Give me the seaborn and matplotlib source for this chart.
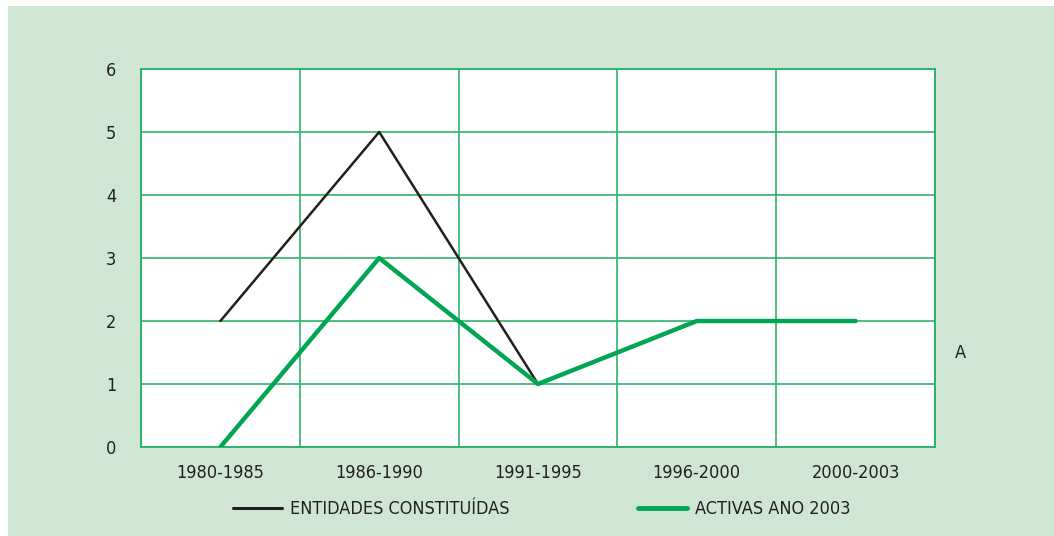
import pandas as pd
import numpy as np
import matplotlib
matplotlib.use('Agg')
import matplotlib.pyplot as plt
from matplotlib.patches import Rectangle
from matplotlib.lines import Line2D
import seaborn as sns

periods = ['1980-1985', '1986-1990', '1991-1995', '1996-2000', '2000-2003']
constituidas = [2, 5, 1, 2, 2]
activas = [0, 3, 1, 2, 2]
series_names = ['ENTIDADES CONSTITUÍDAS', 'ACTIVAS ANO 2003']

df = pd.DataFrame({
    'periodo': periods * 2,
    'pos': list(range(len(periods))) * 2,
    'valor': constituidas + activas,
    'serie': [series_names[0]] * len(periods) + [series_names[1]] * len(periods),
})

sns.set_style('white')
plt.rcParams['font.family'] = ['DejaVu Sans']
plt.rcParams['font.stretch'] = 'condensed'

bg = '#cfe6d5'
grid_green = '#2fb36c'
txt = '#231f20'
line_black = '#231f20'
line_green = '#00a651'

fig = plt.figure(figsize=(10.54, 5.36), dpi=100)
fig.patch.set_facecolor('white')
fig.patches.append(Rectangle((8 / 1054, 0), 1 - 8 / 1054, 1 - 6 / 536,
                             transform=fig.transFigure, facecolor=bg,
                             edgecolor='none', zorder=-10))

ax = fig.add_axes([141 / 1054, 1 - 447 / 536, 794 / 1054, 378 / 536])
ax.set_facecolor('white')

sns.lineplot(data=df, x='pos', y='valor', hue='serie', size='serie',
             palette={series_names[0]: line_black, series_names[1]: line_green},
             sizes={series_names[0]: 1.8, series_names[1]: 3.2},
             legend=False, ax=ax, zorder=3)

ax.set_xlim(-0.5, len(periods) - 0.5)
ax.set_ylim(0, 6)
ax.set_yticks(range(0, 7))
ax.set_xticks(range(len(periods)))
ax.set_xticklabels(periods)
ax.set_xticks(np.arange(-0.5, len(periods), 1), minor=True)
ax.grid(False)
ax.grid(True, which='minor', axis='x', color=grid_green, lw=1.2)
ax.grid(True, which='major', axis='y', color=grid_green, lw=1.2)
ax.tick_params(axis='both', which='both', length=0, labelsize=13, colors=txt)
ax.tick_params(axis='x', pad=12)
ax.tick_params(axis='y', pad=18)
for s in ax.spines.values():
    s.set_color(grid_green)
    s.set_linewidth(1.4)
ax.set_xlabel('')
ax.set_ylabel('')

fig.text(955 / 1054, 1 - 353 / 536, 'A', fontsize=13, color=txt,
         ha='left', va='center')

legend_kw = dict(loc='center left', frameon=False, fontsize=13,
                 handlelength=2.7, handletextpad=0.45, labelcolor=txt,
                 borderpad=0, borderaxespad=0)
fig.legend([Line2D([], [], color=line_black, lw=2.2)], [series_names[0]],
           bbox_to_anchor=(233 / 1054, 1 - 509 / 536), **legend_kw)
fig.legend([Line2D([], [], color=line_green, lw=3.5)], [series_names[1]],
           bbox_to_anchor=(638 / 1054, 1 - 509 / 536), **legend_kw)

fig.savefig('out.png', dpi=100, facecolor=fig.get_facecolor())
